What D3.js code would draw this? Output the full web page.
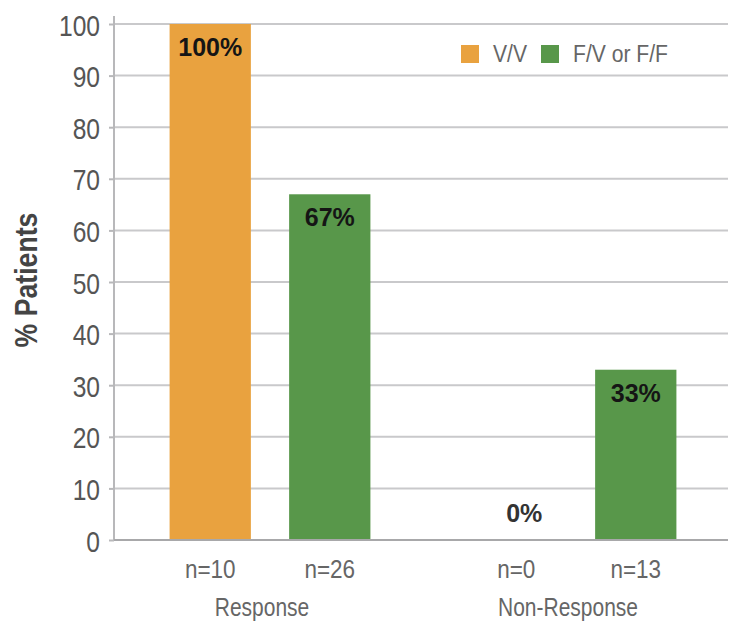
<!DOCTYPE html>
<html>
<head>
<meta charset="utf-8">
<script src="https://cdn.jsdelivr.net/npm/d3@7"></script>
<style>
  html, body { margin: 0; padding: 0; background: #fff; }
  svg { display: block; }
</style>
</head>
<body>
<svg id="chart" width="738" height="621"></svg>
<script>
// Response groups and genotype series
const groups = ["Response", "Non-Response"];
const seriesNames = ["V/V", "F/V or F/F"];
const seriesColors = ["#E9A23F", "#58974A"];
// percent of patients per group, one array per series
const valuesVV = [100, 0];
const valuesFV = [67, 33];
// patient counts shown under each bar
const countsVV = [10, 0];
const countsFV = [26, 13];
const yTicks = [0, 10, 20, 30, 40, 50, 60, 70, 80, 90, 100];

const font = "'Liberation Sans', Arial, Helvetica, sans-serif";

const svg = d3.select("#chart");

const axisX = 114, plotRight = 728;
const y = d3.scaleLinear().domain([0, 100]).range([540, 24]);
const x0 = d3.scaleBand().domain(groups).range([117, 729]);
const x1 = d3.scaleBand().domain(seriesNames).range([0, x0.bandwidth()])
  .paddingInner(0.32).paddingOuter(0.44);

// condensed text: place at (x, y), then squeeze horizontally
function condensed(sel, k) {
  return sel.attr("transform", function () {
    const x = +this.getAttribute("data-x"), yy = +this.getAttribute("data-y");
    return `translate(${x},${yy}) scale(${k},1)`;
  });
}

// build rows from the arrays
const rows = [];
groups.forEach((g, i) => {
  rows.push({ group: g, series: seriesNames[0], value: valuesVV[i], n: countsVV[i], color: seriesColors[0] });
  rows.push({ group: g, series: seriesNames[1], value: valuesFV[i], n: countsFV[i], color: seriesColors[1] });
});
const barCenter = d => x0(d.group) + x1(d.series) + x1.bandwidth() / 2;

// horizontal gridlines
svg.append("g").selectAll("line")
  .data(yTicks.filter(t => t > 0))
  .join("line")
  .attr("x1", axisX).attr("x2", plotRight)
  .attr("y1", d => y(d)).attr("y2", d => y(d))
  .attr("stroke", "#c9c9cb").attr("stroke-width", 2);

// left axis with ticks and labels
const yAxis = svg.append("g")
  .attr("transform", `translate(${axisX},0)`)
  .call(d3.axisLeft(y).tickValues(yTicks).tickSize(5));
yAxis.select(".domain").remove();
yAxis.selectAll(".tick line").attr("stroke", "#b8b8ba").attr("stroke-width", 2);
yAxis.selectAll(".tick text")
  .attr("x", null).attr("dy", null)
  .attr("transform", "translate(-14,11) scale(0.82,1)")
  .attr("fill", "#555")
  .style("font-family", font)
  .style("font-size", "30px");
svg.append("line")
  .attr("x1", axisX).attr("x2", axisX)
  .attr("y1", 16).attr("y2", y(0))
  .attr("stroke", "#b8b8ba").attr("stroke-width", 2);

// bars
svg.append("g").selectAll("rect")
  .data(rows.filter(d => d.value > 0))
  .join("rect")
  .attr("x", d => x0(d.group) + x1(d.series))
  .attr("y", d => y(d.value))
  .attr("width", x1.bandwidth())
  .attr("height", d => y(0) - y(d.value))
  .attr("fill", d => d.color);

// baseline
svg.append("line")
  .attr("x1", axisX).attr("x2", plotRight)
  .attr("y1", y(0)).attr("y2", y(0))
  .attr("stroke", "#a8a8aa").attr("stroke-width", 2);

// value labels (the empty bar's label sits just above the baseline)
svg.append("g").selectAll("text")
  .data(rows)
  .join("text")
  .attr("x", d => d.value > 0 ? barCenter(d) : barCenter(d) + 8)
  .attr("y", d => d.value > 0 ? y(d.value) + 32 : y(0) - 18)
  .attr("text-anchor", "middle")
  .attr("fill", d => d.value > 0 ? "#151515" : "#333")
  .style("font-family", font)
  .style("font-weight", "bold")
  .style("font-size", "25px")
  .text(d => d.value + "%");

// patient counts
svg.append("g").selectAll("text")
  .data(rows)
  .join("text")
  .attr("data-x", barCenter)
  .attr("data-y", 578)
  .call(condensed, 0.9)
  .attr("text-anchor", "middle")
  .attr("fill", "#666")
  .style("font-family", font)
  .style("font-size", "25px")
  .text(d => "n=" + d.n);

// group labels
svg.append("g").selectAll("text")
  .data(groups)
  .join("text")
  .attr("data-x", d => x0(d) + x0.bandwidth() / 2 - 8)
  .attr("data-y", 616)
  .call(condensed, 0.84)
  .attr("text-anchor", "middle")
  .attr("fill", "#666")
  .style("font-family", font)
  .style("font-size", "25px")
  .text(d => d);

// y-axis title
svg.append("text")
  .attr("transform", "translate(37,280) rotate(-90) scale(0.86,1)")
  .attr("text-anchor", "middle")
  .attr("fill", "#444")
  .style("font-family", font)
  .style("font-weight", "bold")
  .style("font-size", "31px")
  .text("% Patients");

// legend
const legendPos = [461, 541];
const legend = svg.append("g").selectAll("g")
  .data(seriesNames)
  .join("g")
  .attr("transform", (d, i) => `translate(${legendPos[i]},45)`);
legend.append("rect")
  .attr("width", 18).attr("height", 18)
  .attr("fill", (d, i) => seriesColors[i]);
legend.append("text")
  .attr("transform", "translate(32,17) scale(0.88,1)")
  .attr("fill", "#666")
  .style("font-family", font)
  .style("font-size", "24px")
  .text(d => d);
</script>
</body>
</html>
